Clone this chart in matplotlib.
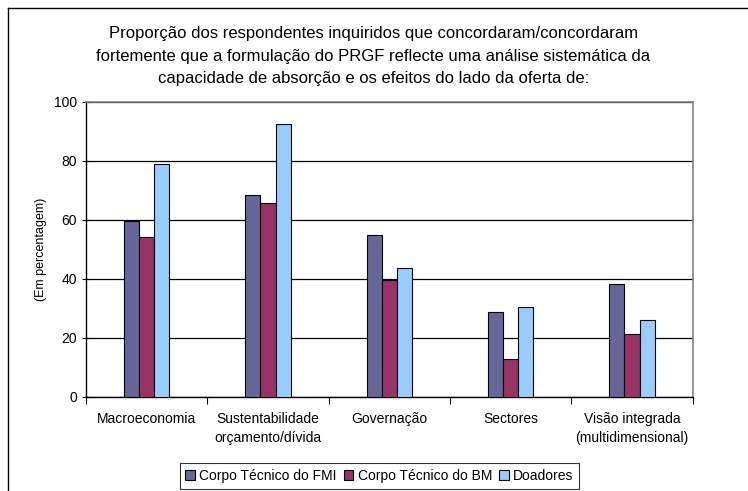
import matplotlib.pyplot as plt
from matplotlib.lines import Line2D
import numpy as np

plt.rcParams['font.family'] = ['Liberation Sans', 'DejaVu Sans']

categories = ['Macroeconomia', 'Sustentabilidade\norçamento/dívida', 'Governação',
              'Sectores', 'Visão integrada\n(multidimensional)']
series_names = ['Corpo Técnico do FMI', 'Corpo Técnico do BM', 'Doadores']
fmi = [59.6, 68.4, 54.9, 28.8, 38.4]
bm = [54.2, 65.9, 39.5, 12.9, 21.3]
doadores = [79.1, 92.5, 43.6, 30.5, 26.2]
colors = ['#666699', '#993366', '#99CCFF']
yticks = [0, 20, 40, 60, 80, 100]

title = ('Proporção dos respondentes inquiridos que concordaram/concordaram\n'
         'fortemente que a formulação do PRGF reflecte uma análise sistemática da\n'
         'capacidade de absorção e os efeitos do lado da oferta de:')

fig = plt.figure(figsize=(7.48, 4.91), dpi=100)
ax = fig.add_axes([0.115, 0.1915, 0.811, 0.601])

x = np.arange(len(categories))
w = 0.125
for i, (vals, name) in enumerate(zip([fmi, bm, doadores], series_names)):
    ax.bar(x + (i - 1) * w, vals, width=w, color=colors[i], edgecolor='black',
           linewidth=0.8, label=name, zorder=3)

ax.set_xlim(-0.5, len(categories) - 0.5)
ax.set_ylim(0, 100)
ax.set_yticks(yticks)
ax.tick_params(axis='y', direction='inout', length=6, labelsize=10, width=0.8)
ax.set_xticks(x)
ax.set_xticklabels(categories, fontsize=10, linespacing=1.45)
ax.tick_params(axis='x', length=0, pad=11)
ax.set_xticks(np.arange(-0.5, len(categories)), minor=True)
ax.tick_params(axis='x', which='minor', direction='out', length=5, width=0.8)
ax.yaxis.grid(True, color='black', linewidth=0.9, zorder=0)
ax.set_axisbelow(True)
for s in ['top', 'right']:
    ax.spines[s].set_color('#808080')
    ax.spines[s].set_linewidth(1.2)
for s in ['left', 'bottom']:
    ax.spines[s].set_linewidth(1.0)

ax.set_ylabel('(Em percentagem)', fontsize=9, labelpad=5)
fig.text(0.499, 1 - 56 / 491, title, ha='center', va='center', fontsize=12, linespacing=1.6)

leg = fig.legend(loc='center', bbox_to_anchor=(0.507, 1 - 476 / 491), ncol=3, fontsize=10,
                 frameon=True, fancybox=False, edgecolor='black', handlelength=0.7,
                 handleheight=0.7, handletextpad=0.3, columnspacing=0.5,
                 borderpad=0.4, borderaxespad=0)
leg.get_frame().set_linewidth(0.8)

# chart border (cropped at right and bottom)
fig.add_artist(Line2D([8 / 748, 1], [1 - 8 / 491, 1 - 8 / 491], color='black', linewidth=1.0))
fig.add_artist(Line2D([8 / 748, 8 / 748], [0, 1 - 8 / 491], color='black', linewidth=1.0))

fig.savefig('out.png', dpi=100)
